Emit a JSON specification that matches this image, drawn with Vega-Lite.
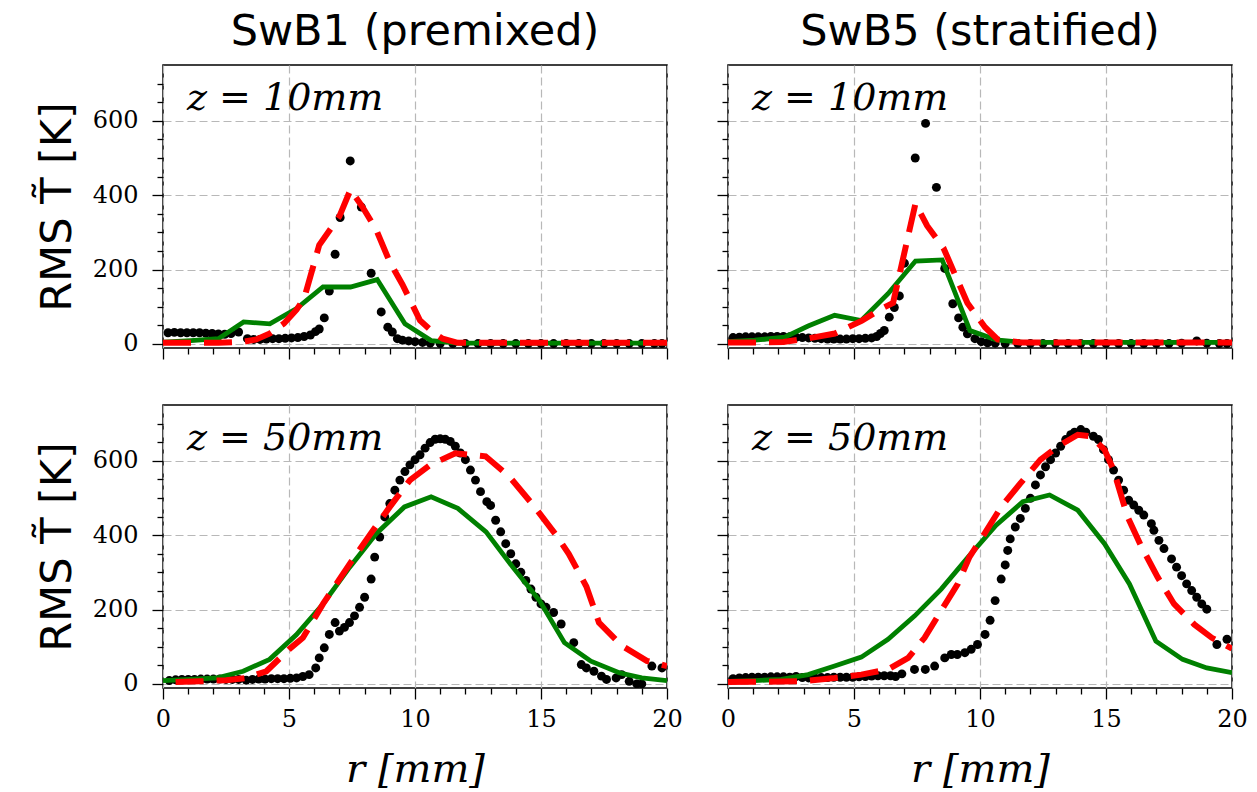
{
  "$schema": "https://vega.github.io/schema/vega-lite/v6.json",
  "background": "white",
  "padding": {"left": 35, "top": 10, "right": 5, "bottom": 5},
  "bounds": "flush",
  "columns": 2,
  "spacing": {"row": 57, "column": 61},
  "datasets": {
    "b1_10_exp": [{"r":0.2,"T":30},{"r":0.45,"T":31},{"r":0.7,"T":30},{"r":0.95,"T":30},{"r":1.2,"T":30},{"r":1.45,"T":30},{"r":1.7,"T":29},{"r":1.95,"T":28},{"r":2.2,"T":27},{"r":2.45,"T":26},{"r":2.7,"T":28},{"r":3.0,"T":32},{"r":3.35,"T":14},{"r":3.6,"T":12},{"r":3.85,"T":12},{"r":4.1,"T":13},{"r":4.35,"T":14},{"r":4.6,"T":14},{"r":4.85,"T":15},{"r":5.1,"T":16},{"r":5.35,"T":17},{"r":5.6,"T":20},{"r":5.85,"T":24},{"r":6.05,"T":33},{"r":6.2,"T":40},{"r":6.4,"T":70},{"r":6.6,"T":142},{"r":6.83,"T":241},{"r":7.03,"T":340},{"r":7.43,"T":492},{"r":7.87,"T":368},{"r":8.26,"T":190},{"r":8.66,"T":86},{"r":8.92,"T":45},{"r":9.1,"T":32},{"r":9.3,"T":14},{"r":9.5,"T":10},{"r":9.75,"T":8},{"r":10.0,"T":6},{"r":10.3,"T":4},{"r":10.6,"T":2},{"r":11.0,"T":1},{"r":11.5,"T":1},{"r":12.0,"T":1},{"r":12.5,"T":1},{"r":13.0,"T":1},{"r":13.5,"T":1},{"r":14.0,"T":1},{"r":14.5,"T":1},{"r":15.0,"T":1},{"r":15.5,"T":1},{"r":16.0,"T":1},{"r":16.5,"T":1},{"r":17.0,"T":1},{"r":17.5,"T":1},{"r":18.0,"T":1},{"r":18.5,"T":1},{"r":19.0,"T":1},{"r":19.5,"T":1},{"r":19.8,"T":1}],
    "b1_10_g": [{"r":0,"T":5},{"r":1.1,"T":9},{"r":2.2,"T":14},{"r":3.2,"T":59},{"r":4.24,"T":54},{"r":5.3,"T":95},{"r":6.35,"T":153},{"r":7.44,"T":153},{"r":8.5,"T":173},{"r":9.6,"T":54},{"r":10.64,"T":9},{"r":11.7,"T":2},{"r":20,"T":2}],
    "b1_10_r": [{"r":0,"T":3},{"r":1.1,"T":3},{"r":2.2,"T":3},{"r":3.2,"T":6},{"r":3.7,"T":12},{"r":4.24,"T":28},{"r":4.8,"T":55},{"r":5.3,"T":92},{"r":5.6,"T":122},{"r":6.2,"T":266},{"r":7.0,"T":343},{"r":7.44,"T":415},{"r":7.9,"T":370},{"r":8.46,"T":307},{"r":9.0,"T":220},{"r":9.5,"T":160},{"r":10.2,"T":63},{"r":10.7,"T":32},{"r":11.1,"T":14},{"r":11.7,"T":3},{"r":20,"T":3}],
    "b5_10_exp": [{"r":0.2,"T":17},{"r":0.45,"T":18},{"r":0.7,"T":19},{"r":0.95,"T":19},{"r":1.2,"T":19},{"r":1.45,"T":19},{"r":1.7,"T":20},{"r":1.95,"T":20},{"r":2.2,"T":20},{"r":2.45,"T":19},{"r":2.7,"T":18},{"r":2.95,"T":17},{"r":3.2,"T":16},{"r":3.45,"T":15},{"r":3.7,"T":14},{"r":3.95,"T":13},{"r":4.2,"T":13},{"r":4.45,"T":13},{"r":4.7,"T":13},{"r":4.95,"T":14},{"r":5.2,"T":14},{"r":5.45,"T":15},{"r":5.7,"T":16},{"r":5.9,"T":20},{"r":6.05,"T":28},{"r":6.2,"T":36},{"r":6.4,"T":72},{"r":6.6,"T":98},{"r":6.8,"T":129},{"r":7.0,"T":217},{"r":7.43,"T":500},{"r":7.84,"T":593},{"r":8.27,"T":421},{"r":8.6,"T":203},{"r":8.92,"T":108},{"r":9.15,"T":70},{"r":9.32,"T":45},{"r":9.5,"T":27},{"r":9.8,"T":14},{"r":10.05,"T":6},{"r":10.3,"T":3},{"r":10.6,"T":2},{"r":11.0,"T":1},{"r":11.5,"T":1},{"r":12.0,"T":1},{"r":12.5,"T":1},{"r":13.0,"T":1},{"r":13.5,"T":1},{"r":14.0,"T":1},{"r":14.5,"T":1},{"r":15.0,"T":1},{"r":15.5,"T":1},{"r":16.0,"T":1},{"r":16.5,"T":1},{"r":17.0,"T":1},{"r":17.5,"T":1},{"r":18.0,"T":2},{"r":18.6,"T":8},{"r":19.0,"T":2},{"r":19.5,"T":1},{"r":19.8,"T":1}],
    "b5_10_g": [{"r":0,"T":6},{"r":1.06,"T":10},{"r":2.25,"T":18},{"r":3.18,"T":48},{"r":4.23,"T":77},{"r":5.29,"T":63},{"r":6.35,"T":135},{"r":7.44,"T":223},{"r":8.5,"T":226},{"r":9.6,"T":36},{"r":10.64,"T":11},{"r":11.7,"T":4},{"r":20,"T":4}],
    "b5_10_r": [{"r":0,"T":4},{"r":1.1,"T":4},{"r":2.2,"T":5},{"r":3.2,"T":15},{"r":4.24,"T":28},{"r":5.3,"T":62},{"r":6.1,"T":95},{"r":6.55,"T":110},{"r":7.44,"T":378},{"r":7.9,"T":318},{"r":8.55,"T":258},{"r":9.5,"T":110},{"r":10.2,"T":45},{"r":10.7,"T":12},{"r":11.6,"T":4},{"r":20,"T":4}],
    "b1_50_exp": [{"r":0.25,"T":9},{"r":0.5,"T":11},{"r":0.75,"T":12},{"r":1.0,"T":12},{"r":1.25,"T":12},{"r":1.5,"T":13},{"r":1.75,"T":13},{"r":2.0,"T":13},{"r":2.25,"T":13},{"r":2.5,"T":12},{"r":2.75,"T":12},{"r":3.0,"T":12},{"r":3.3,"T":10},{"r":3.55,"T":12},{"r":3.8,"T":13},{"r":4.05,"T":13},{"r":4.3,"T":14},{"r":4.55,"T":14},{"r":4.8,"T":14},{"r":5.05,"T":15},{"r":5.3,"T":16},{"r":5.55,"T":20},{"r":5.8,"T":25},{"r":6.06,"T":43},{"r":6.2,"T":70},{"r":6.4,"T":97},{"r":6.6,"T":133},{"r":6.83,"T":165},{"r":7.0,"T":142},{"r":7.2,"T":152},{"r":7.4,"T":165},{"r":7.6,"T":183},{"r":7.8,"T":206},{"r":8.0,"T":233},{"r":8.26,"T":282},{"r":8.4,"T":341},{"r":8.6,"T":395},{"r":8.8,"T":449},{"r":9.0,"T":485},{"r":9.2,"T":521},{"r":9.4,"T":548},{"r":9.6,"T":571},{"r":9.8,"T":589},{"r":10.0,"T":603},{"r":10.2,"T":616},{"r":10.4,"T":634},{"r":10.6,"T":649},{"r":10.8,"T":658},{"r":11.0,"T":659},{"r":11.2,"T":658},{"r":11.4,"T":652},{"r":11.6,"T":639},{"r":11.8,"T":621},{"r":12.0,"T":603},{"r":12.2,"T":575},{"r":12.4,"T":548},{"r":12.6,"T":517},{"r":12.85,"T":490},{"r":13.0,"T":480},{"r":13.2,"T":440},{"r":13.4,"T":409},{"r":13.6,"T":377},{"r":13.8,"T":350},{"r":14.0,"T":323},{"r":14.2,"T":300},{"r":14.4,"T":278},{"r":14.6,"T":255},{"r":14.8,"T":233},{"r":15.0,"T":215},{"r":15.2,"T":206},{"r":15.5,"T":192},{"r":15.8,"T":161},{"r":16.3,"T":111},{"r":16.6,"T":52},{"r":16.8,"T":43},{"r":17.1,"T":34},{"r":17.4,"T":21},{"r":17.6,"T":12},{"r":17.98,"T":16},{"r":18.2,"T":25},{"r":18.5,"T":7},{"r":18.8,"T":0},{"r":19.0,"T":0},{"r":19.4,"T":48},{"r":19.8,"T":43}],
    "b1_50_g": [{"r":0,"T":9},{"r":1.06,"T":12},{"r":2.12,"T":16},{"r":3.18,"T":34},{"r":4.23,"T":66},{"r":5.29,"T":132},{"r":6.35,"T":215},{"r":7.41,"T":314},{"r":8.46,"T":404},{"r":9.58,"T":476},{"r":10.64,"T":503},{"r":11.7,"T":472},{"r":12.82,"T":409},{"r":13.88,"T":314},{"r":14.94,"T":224},{"r":15.93,"T":111},{"r":16.98,"T":61},{"r":18.1,"T":30},{"r":19.0,"T":16},{"r":20,"T":9}],
    "b1_50_r": [{"r":0.5,"T":5},{"r":1.5,"T":7},{"r":2.5,"T":10},{"r":3.3,"T":16},{"r":4.1,"T":34},{"r":5.0,"T":93},{"r":5.55,"T":124},{"r":6.35,"T":215},{"r":7.41,"T":323},{"r":8.2,"T":400},{"r":9.0,"T":476},{"r":9.8,"T":548},{"r":10.6,"T":589},{"r":11.6,"T":620},{"r":12.8,"T":612},{"r":13.75,"T":557},{"r":14.7,"T":480},{"r":15.6,"T":400},{"r":16.1,"T":350},{"r":16.8,"T":262},{"r":17.3,"T":165},{"r":18.2,"T":103},{"r":19.2,"T":62},{"r":20,"T":48}],
    "b5_50_exp": [{"r":0.2,"T":14},{"r":0.45,"T":16},{"r":0.7,"T":17},{"r":0.95,"T":18},{"r":1.2,"T":18},{"r":1.45,"T":18},{"r":1.7,"T":19},{"r":1.95,"T":19},{"r":2.2,"T":19},{"r":2.45,"T":18},{"r":2.7,"T":20},{"r":2.95,"T":17},{"r":3.2,"T":16},{"r":3.45,"T":16},{"r":3.7,"T":17},{"r":3.95,"T":17},{"r":4.2,"T":18},{"r":4.45,"T":18},{"r":4.7,"T":18},{"r":4.95,"T":18},{"r":5.2,"T":19},{"r":5.45,"T":20},{"r":5.7,"T":21},{"r":5.95,"T":22},{"r":6.2,"T":22},{"r":6.45,"T":22},{"r":6.65,"T":20},{"r":6.9,"T":27},{"r":7.4,"T":39},{"r":7.83,"T":39},{"r":8.2,"T":48},{"r":8.6,"T":70},{"r":8.86,"T":79},{"r":9.1,"T":79},{"r":9.4,"T":84},{"r":9.65,"T":93},{"r":9.9,"T":106},{"r":10.2,"T":133},{"r":10.4,"T":171},{"r":10.6,"T":224},{"r":10.84,"T":282},{"r":11.0,"T":320},{"r":11.1,"T":359},{"r":11.2,"T":390},{"r":11.4,"T":422},{"r":11.6,"T":445},{"r":11.8,"T":472},{"r":12.0,"T":499},{"r":12.2,"T":535},{"r":12.4,"T":562},{"r":12.6,"T":584},{"r":12.8,"T":603},{"r":13.0,"T":621},{"r":13.2,"T":639},{"r":13.4,"T":657},{"r":13.6,"T":670},{"r":13.75,"T":677},{"r":14.0,"T":684},{"r":14.2,"T":677},{"r":14.5,"T":666},{"r":14.7,"T":657},{"r":14.9,"T":630},{"r":15.1,"T":603},{"r":15.3,"T":575},{"r":15.5,"T":548},{"r":15.7,"T":521},{"r":15.9,"T":494},{"r":16.1,"T":481},{"r":16.3,"T":467},{"r":16.5,"T":454},{"r":16.8,"T":431},{"r":16.9,"T":413},{"r":17.1,"T":386},{"r":17.3,"T":364},{"r":17.6,"T":336},{"r":17.8,"T":314},{"r":18.0,"T":291},{"r":18.2,"T":269},{"r":18.4,"T":251},{"r":18.6,"T":233},{"r":18.8,"T":215},{"r":19.0,"T":201},{"r":19.4,"T":106},{"r":19.8,"T":120}],
    "b5_50_g": [{"r":0,"T":7},{"r":1.06,"T":9},{"r":2.12,"T":12},{"r":3.18,"T":25},{"r":4.23,"T":48},{"r":5.29,"T":72},{"r":6.35,"T":120},{"r":7.41,"T":183},{"r":8.46,"T":255},{"r":9.58,"T":345},{"r":10.64,"T":427},{"r":11.7,"T":490},{"r":12.76,"T":508},{"r":13.88,"T":467},{"r":14.94,"T":377},{"r":15.93,"T":269},{"r":16.98,"T":115},{"r":18.04,"T":66},{"r":19.0,"T":43},{"r":20,"T":30}],
    "b5_50_r": [{"r":0,"T":5},{"r":1.5,"T":6},{"r":2.9,"T":7},{"r":4.23,"T":16},{"r":5.29,"T":25},{"r":6.35,"T":39},{"r":7.15,"T":70},{"r":7.8,"T":124},{"r":8.46,"T":197},{"r":9.12,"T":269},{"r":9.58,"T":341},{"r":10.18,"T":404},{"r":10.84,"T":476},{"r":11.6,"T":539},{"r":12.4,"T":603},{"r":13.1,"T":639},{"r":13.88,"T":670},{"r":14.4,"T":666},{"r":14.94,"T":630},{"r":15.3,"T":575},{"r":15.85,"T":450},{"r":16.4,"T":370},{"r":17.05,"T":287},{"r":17.7,"T":215},{"r":18.5,"T":160},{"r":19.2,"T":124},{"r":20,"T":95}]
  },
  "concat": [
    {
      "width": 504, "height": 283,
      "title": {"text": "SwB1 (premixed)", "frame": "group", "anchor": "middle"},
      "encoding": {
        "x": {"field": "r", "type": "quantitative", "scale": {"domain": [0, 20], "nice": false, "zero": false},
          "axis": {"values": [0,1,2,3,4,5,6,7,8,9,10,11,12,13,14,15,16,17,18,19,20], "labels": false, "title": null,
            "tickSize": {"condition": {"test": "datum.value % 5 === 0", "value": 11}, "value": 6},
            "gridOpacity": {"condition": {"test": "datum.value % 5 === 0", "value": 1}, "value": 0}}},
        "y": {"field": "T", "type": "quantitative", "scale": {"domain": [-11, 750], "nice": false, "zero": false},
          "axis": {"values": [0,50,100,150,200,250,300,350,400,450,500,550,600,650,700], "title": "RMS T̃ [K]",
            "labelExpr": "datum.value % 200 === 0 ? datum.label : ''",
            "tickSize": {"condition": {"test": "datum.value % 200 === 0", "value": 11}, "value": 6},
            "gridOpacity": {"condition": {"test": "datum.value % 200 === 0", "value": 1}, "value": 0}}}
      },
      "layer": [
        {"data": {"name": "b1_10_exp"}, "mark": {"type": "circle", "size": 80, "color": "black", "opacity": 1, "clip": true}},
        {"data": {"name": "b1_10_g"}, "mark": {"type": "line", "color": "#008000", "strokeWidth": 4.8, "clip": true}},
        {"data": {"name": "b1_10_r"}, "mark": {"type": "line", "color": "#ff0000", "strokeWidth": 6, "strokeDash": [28, 13], "clip": true}},
        {"data": {"values": [{"r": 0.95, "T": 628, "t": "z = 10mm"}]}, "mark": {"type": "text", "font": "DejaVu Serif", "fontStyle": "italic", "fontSize": 38, "align": "left", "baseline": "alphabetic", "color": "black"},
          "encoding": {"text": {"field": "t", "type": "nominal"}}}
      ]
    },
    {
      "width": 504, "height": 283,
      "title": {"text": "SwB5 (stratified)", "frame": "group", "anchor": "middle"},
      "encoding": {
        "x": {"field": "r", "type": "quantitative", "scale": {"domain": [0, 20], "nice": false, "zero": false},
          "axis": {"values": [0,1,2,3,4,5,6,7,8,9,10,11,12,13,14,15,16,17,18,19,20], "labels": false, "title": null,
            "tickSize": {"condition": {"test": "datum.value % 5 === 0", "value": 11}, "value": 6},
            "gridOpacity": {"condition": {"test": "datum.value % 5 === 0", "value": 1}, "value": 0}}},
        "y": {"field": "T", "type": "quantitative", "scale": {"domain": [-11, 750], "nice": false, "zero": false},
          "axis": {"values": [0,50,100,150,200,250,300,350,400,450,500,550,600,650,700], "labels": false, "title": null,
            "tickSize": {"condition": {"test": "datum.value % 200 === 0", "value": 11}, "value": 6},
            "gridOpacity": {"condition": {"test": "datum.value % 200 === 0", "value": 1}, "value": 0}}}
      },
      "layer": [
        {"data": {"name": "b5_10_exp"}, "mark": {"type": "circle", "size": 80, "color": "black", "opacity": 1, "clip": true}},
        {"data": {"name": "b5_10_g"}, "mark": {"type": "line", "color": "#008000", "strokeWidth": 4.8, "clip": true}},
        {"data": {"name": "b5_10_r"}, "mark": {"type": "line", "color": "#ff0000", "strokeWidth": 6, "strokeDash": [28, 13], "clip": true}},
        {"data": {"values": [{"r": 0.95, "T": 628, "t": "z = 10mm"}]}, "mark": {"type": "text", "font": "DejaVu Serif", "fontStyle": "italic", "fontSize": 38, "align": "left", "baseline": "alphabetic", "color": "black"},
          "encoding": {"text": {"field": "t", "type": "nominal"}}}
      ]
    },
    {
      "width": 504, "height": 283,
      "encoding": {
        "x": {"field": "r", "type": "quantitative", "scale": {"domain": [0, 20], "nice": false, "zero": false},
          "axis": {"values": [0,1,2,3,4,5,6,7,8,9,10,11,12,13,14,15,16,17,18,19,20], "title": "r [mm]",
            "labelExpr": "datum.value % 5 === 0 ? datum.label : ''",
            "tickSize": {"condition": {"test": "datum.value % 5 === 0", "value": 11}, "value": 6},
            "gridOpacity": {"condition": {"test": "datum.value % 5 === 0", "value": 1}, "value": 0}}},
        "y": {"field": "T", "type": "quantitative", "scale": {"domain": [-11, 750], "nice": false, "zero": false},
          "axis": {"values": [0,50,100,150,200,250,300,350,400,450,500,550,600,650,700], "title": "RMS T̃ [K]",
            "labelExpr": "datum.value % 200 === 0 ? datum.label : ''",
            "tickSize": {"condition": {"test": "datum.value % 200 === 0", "value": 11}, "value": 6},
            "gridOpacity": {"condition": {"test": "datum.value % 200 === 0", "value": 1}, "value": 0}}}
      },
      "layer": [
        {"data": {"name": "b1_50_exp"}, "mark": {"type": "circle", "size": 80, "color": "black", "opacity": 1, "clip": true}},
        {"data": {"name": "b1_50_g"}, "mark": {"type": "line", "color": "#008000", "strokeWidth": 4.8, "clip": true}},
        {"data": {"name": "b1_50_r"}, "mark": {"type": "line", "color": "#ff0000", "strokeWidth": 6, "strokeDash": [28, 13], "clip": true}},
        {"data": {"values": [{"r": 0.95, "T": 628, "t": "z = 50mm"}]}, "mark": {"type": "text", "font": "DejaVu Serif", "fontStyle": "italic", "fontSize": 38, "align": "left", "baseline": "alphabetic", "color": "black"},
          "encoding": {"text": {"field": "t", "type": "nominal"}}}
      ]
    },
    {
      "width": 504, "height": 283,
      "encoding": {
        "x": {"field": "r", "type": "quantitative", "scale": {"domain": [0, 20], "nice": false, "zero": false},
          "axis": {"values": [0,1,2,3,4,5,6,7,8,9,10,11,12,13,14,15,16,17,18,19,20], "title": "r [mm]",
            "labelExpr": "datum.value % 5 === 0 ? datum.label : ''",
            "tickSize": {"condition": {"test": "datum.value % 5 === 0", "value": 11}, "value": 6},
            "gridOpacity": {"condition": {"test": "datum.value % 5 === 0", "value": 1}, "value": 0}}},
        "y": {"field": "T", "type": "quantitative", "scale": {"domain": [-11, 750], "nice": false, "zero": false},
          "axis": {"values": [0,50,100,150,200,250,300,350,400,450,500,550,600,650,700], "labels": false, "title": null,
            "tickSize": {"condition": {"test": "datum.value % 200 === 0", "value": 11}, "value": 6},
            "gridOpacity": {"condition": {"test": "datum.value % 200 === 0", "value": 1}, "value": 0}}}
      },
      "layer": [
        {"data": {"name": "b5_50_exp"}, "mark": {"type": "circle", "size": 80, "color": "black", "opacity": 1, "clip": true}},
        {"data": {"name": "b5_50_g"}, "mark": {"type": "line", "color": "#008000", "strokeWidth": 4.8, "clip": true}},
        {"data": {"name": "b5_50_r"}, "mark": {"type": "line", "color": "#ff0000", "strokeWidth": 6, "strokeDash": [28, 13], "clip": true}},
        {"data": {"values": [{"r": 0.95, "T": 628, "t": "z = 50mm"}]}, "mark": {"type": "text", "font": "DejaVu Serif", "fontStyle": "italic", "fontSize": 38, "align": "left", "baseline": "alphabetic", "color": "black"},
          "encoding": {"text": {"field": "t", "type": "nominal"}}}
      ]
    }
  ],
  "config": {
    "view": {"stroke": "black", "strokeWidth": 1.5},
    "axis": {
      "grid": true, "gridColor": "#b8b8b8", "gridDash": [8, 4], "gridWidth": 1.2,
      "domain": false, "tickColor": "black", "tickWidth": 1.3,
      "labelFont": "DejaVu Serif", "labelFontSize": 24, "labelColor": "black",
      "labelFlush": false, "labelOverlap": false, "labelBound": false
    },
    "axisX": {"labelPadding": 8, "titleFont": "DejaVu Serif", "titleFontStyle": "italic", "titleFontSize": 40, "titleFontWeight": "normal", "titleColor": "black", "titlePadding": 18},
    "axisY": {"labelPadding": 14, "titleFont": "DejaVu Sans", "titleFontSize": 43, "titleFontWeight": "normal", "titleColor": "black", "titlePadding": 13},
    "title": {"font": "DejaVu Sans", "fontSize": 43, "fontWeight": "normal", "color": "black", "offset": 11}
  }
}
